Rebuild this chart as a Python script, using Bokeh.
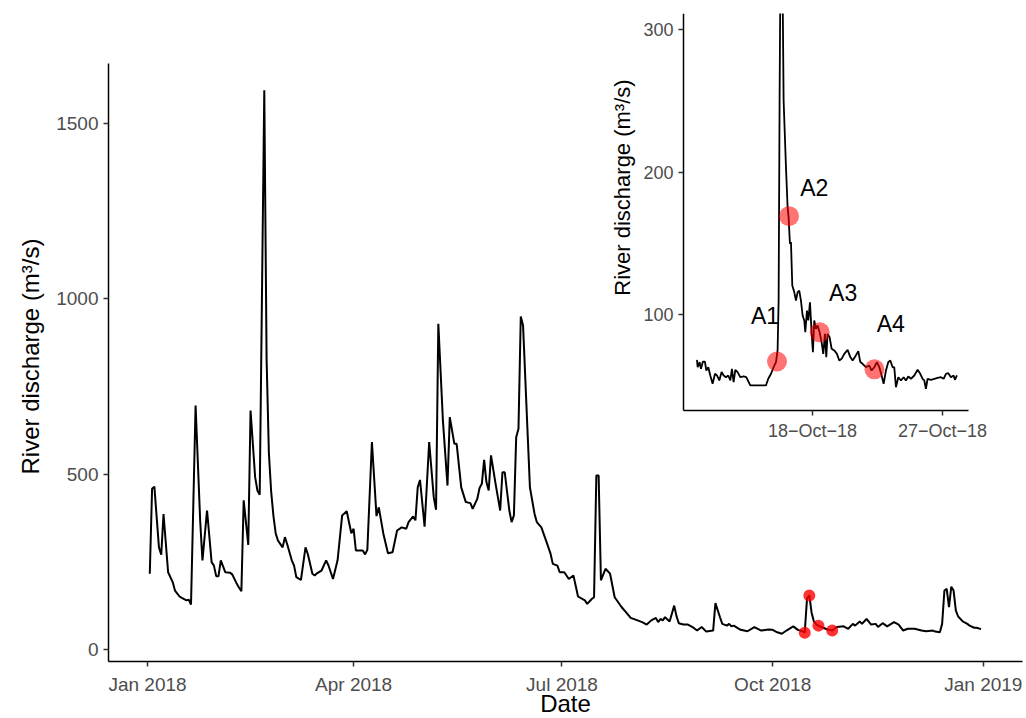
import math
import pandas as pd
from bokeh.plotting import figure
from bokeh.models import (Range1d, LinearAxis, DatetimeAxis, FixedTicker,
                          DatetimeTickFormatter, ColumnDataSource, Label)
from bokeh.embed import file_html
from bokeh.resources import INLINE
from bokeh.core.properties import value

# ------------------------------------------------------------------ data
# daily river discharge 2018 (day offset from 1 Jan 2018, m3/s)
main_day = [1, 2, 3, 5, 6, 7, 9, 11, 12, 14, 15, 17, 18, 19, 21, 23, 24, 26, 28, 29,
            30, 31, 32, 34, 36, 37, 39, 40, 41, 42, 44, 45, 47, 48, 49, 51, 52, 53, 54, 55,
            56, 57, 59, 60, 61, 63, 64, 65, 67, 69, 70, 72, 73, 74, 76, 78, 79, 81, 83, 85,
            87, 89, 90, 91, 94, 95, 96, 98, 100, 101, 103, 105, 107, 109, 111, 113, 114, 116, 117, 118,
            119, 121, 123, 125, 126, 127, 129, 131, 132, 134, 135, 137, 139, 141, 142, 144, 145, 146, 147, 148,
            149, 150, 152, 153, 154, 155, 156, 158, 159, 160, 161, 162, 163, 164, 166, 167, 169, 170, 172, 174,
            176, 177, 179, 180, 182, 184, 186, 188, 191, 192, 194, 195, 196, 197, 198, 200, 202, 204, 207, 209,
            211, 214, 216, 218, 220, 222, 223, 224, 225, 226, 228, 230, 231, 232, 234, 236, 238, 240, 242, 244,
            247, 248, 250, 251, 253, 254, 255, 256, 259, 262, 265, 268, 271, 273, 275, 277, 279, 282, 284, 286,
            287, 288, 289, 290, 291, 292, 293, 295, 297, 299, 301, 304, 306, 308, 309, 311, 312, 314, 316, 318,
            319, 321, 323, 326, 328, 330, 332, 335, 338, 340, 343, 344, 346, 347, 348, 349, 350, 351, 352, 353,
            354, 356, 358, 359, 361, 362, 364]
main_q = [216, 458, 464, 291, 270, 386, 220, 192, 168, 151, 147, 140, 142, 128, 695, 367, 254, 396, 249, 239,
          209, 209, 254, 220, 219, 214, 187, 176, 166, 425, 298, 681, 491, 453, 441, 1593, 830, 560, 450, 380,
          330, 310, 291, 320, 300, 254, 239, 206, 198, 291, 272, 216, 211, 217, 225, 254, 240, 201, 254, 382,
          394, 331, 344, 282, 282, 271, 284, 591, 380, 405, 330, 274, 277, 339, 348, 344, 363, 379, 368, 462,
          483, 350, 591, 434, 398, 928, 652, 467, 662, 586, 586, 462, 420, 417, 401, 429, 460, 472, 540, 477,
          453, 553, 472, 434, 396, 505, 505, 396, 363, 382, 605, 629, 949, 923, 614, 462, 387, 363, 348, 311,
          273, 244, 239, 220, 220, 201, 211, 151, 140, 130, 144, 149, 496, 496, 197, 230, 216, 149, 121, 106,
          90, 83, 78, 71, 83, 90, 78, 87, 83, 92, 80, 125, 95, 75, 71, 71, 64, 54, 64, 51,
          54, 132, 92, 73, 68, 73, 66, 68, 56, 52, 64, 54, 57, 56, 49, 45, 54, 66, 56, 52,
          48, 145, 154, 105, 80, 72, 68, 62, 57, 54, 64, 66, 59, 73, 68, 80, 73, 87, 71, 73,
          64, 75, 66, 78, 71, 54, 59, 59, 54, 52, 54, 51, 49, 73, 168, 173, 121, 179, 168, 111,
          94, 80, 73, 68, 62, 62, 58]

# sampled days highlighted on the annual series
peak_dates = ["2018-10-15", "2018-10-17", "2018-10-21", "2018-10-27"]
peak_q = [48, 154, 68, 54]

# high-resolution discharge for the inset (hours after 10 Oct 2018 00:00)
inset_hour = [0, 1.1, 4.4, 6.6, 9.9, 13.2, 15.5, 18.8, 22.1, 26.0, 29.9, 33.2, 37.1, 40.9, 44.3, 48.2,
              52.0, 55.4, 58.1, 60.9, 63.7, 67.5, 72.0, 77.5, 81.9, 88.6, 100.8, 114.6, 118.5, 123.0, 127.4,
              131.3, 134.0, 135.7, 137.3, 139.6, 141.0, 144.0, 147.9, 150.6, 152.3, 154.5, 156.2, 158.4,
              161.7, 164.5, 167.3, 170.0, 172.8, 175.6, 178.3, 180.0, 182.8, 185.0, 187.8, 190.5, 192.7,
              194.9, 197.7, 200.5, 203.8, 207.1, 209.9, 212.7, 214.9, 217.1, 220.4, 223.8, 228.2, 232.6,
              236.5, 240.4, 244.8, 250.4, 254.8, 258.7, 262.5, 268.1, 271.4, 275.3, 280.8, 286.4, 290.2,
              294.7, 299.1, 303.0, 306.9, 310.2, 314.1, 318.0, 321.3, 325.2, 327.9, 330.7, 334.6, 339.0,
              343.4, 347.3, 351.2, 355.6, 361.2, 366.7, 371.1, 375.0, 377.8, 380.5, 383.3, 388.9, 394.4,
              399.9, 405.5, 409.9, 413.8, 417.7, 422.1, 426.5, 428.7, 432.0]
inset_q = [68.2, 63.0, 66.6, 61.9, 67.0, 67.0, 60.7, 63.0, 57.2, 51.4, 58.4, 57.2, 53.7, 59.6, 57.2, 56.0,
           57.2, 53.7, 61.9, 52.5, 61.2, 59.6, 56.0, 56.5, 56.0, 50.2, 50.2, 50.2, 54.9, 58.4, 63.0,
           66.6, 74.8, 109.8, 250.2, 400.0, 390.0, 250.2, 203.4, 175.3, 168.3, 149.6, 150.8, 120.4,
           115.7, 109.8, 115.7, 116.8, 109.8, 99.3, 95.8, 87.6, 102.8, 95.8, 108.6, 87.6, 73.6,
           95.8, 90.0, 92.3, 87.6, 80.6, 72.4, 86.4, 70.1, 86.4, 84.1, 75.9, 74.8, 72.4,
           67.7, 68.9, 72.4, 75.2, 70.1, 67.7, 70.1, 74.3, 66.6, 65.4, 63.0, 64.2, 60.7,
           63.0, 66.6, 63.0, 57.2, 51.4, 60.7, 66.6, 67.7, 63.0, 63.0, 49.0, 56.0, 53.7,
           56.0, 53.7, 56.5, 54.9, 57.2, 61.2, 58.4, 54.9, 53.7, 47.9, 54.9, 54.2, 54.9,
           55.6, 56.0, 54.9, 58.4, 58.8, 56.0, 57.2, 54.2, 57.2]

# sampling events A1..A4 in the inset
sample_hour = [133, 153, 204, 295]
sample_q = [67, 169, 87.5, 61.5]
sample_label = ["A1", "A2", "A3", "A4"]
label_hour = [113, 195, 243, 322]
label_q = [99, 189, 115, 93.5]

main_xticks = ["2018-01-01", "2018-04-01", "2018-07-01", "2018-10-01", "2019-01-01"]
main_yticks = [0, 500, 1000, 1500]
inset_xticks = ["2018-10-18", "2018-10-27"]
inset_yticks = [100, 200, 300]

# ------------------------------------------------------------------ helpers
def ms(ts):
    return pd.Timestamp(ts).value / 1e6

DAY = 86400000.0
FONT = "Liberation Sans"
W, H = 1026, 718
FT = 13                                       # frame top (clips the inset spike)

# main chart pixel calibration (frame spans whole width and bottom)
AX_L, AX_R, AX_T, AX_B = 108, 1022, 63, 661   # main axis lines
X_JAN18, PX_DAY = 147.0, 2.29
Y_ZERO, PX_UNIT = 649.0, 0.351
t_jan = ms("2018-01-01")

def main_x_at(px):
    return t_jan + (px - X_JAN18) / PX_DAY * DAY

def main_y_at(py):
    return (Y_ZERO - py) / PX_UNIT

p = figure(width=W, height=H, output_backend="svg", toolbar_location=None,
           x_range=Range1d(main_x_at(0), main_x_at(W)),
           y_range=Range1d(main_y_at(H), main_y_at(FT)),
           x_axis_type="datetime",
           min_border_left=0, min_border_top=FT, min_border_right=0, min_border_bottom=0)
p.outline_line_color = None
p.grid.grid_line_color = None
p.background_fill_color = "white"
p.border_fill_color = "white"

# inset calibration (same frame, extra ranges)
I_LEFT, I_RIGHT, I_TOP, I_BOT = 683, 968, 13, 410
I_X18, I_PXDAY = 812.0, 14.44
I_Y100, I_PXUNIT = 314.0, 1.425
i_t18 = ms("2018-10-18")

def inset_x_at(px):
    return i_t18 + (px - I_X18) / I_PXDAY * DAY

def inset_y_at(py):
    return 100 + (I_Y100 - py) / I_PXUNIT

p.extra_x_ranges = {"ix": Range1d(inset_x_at(0), inset_x_at(W))}
p.extra_y_ranges = {"iy": Range1d(inset_y_at(H), inset_y_at(FT))}

# ------------------------------------------------------------------ main
main_src = ColumnDataSource(dict(
    date=pd.Timestamp("2018-01-01") + pd.to_timedelta(main_day, unit="D"), q=main_q))
p.line("date", "q", source=main_src, line_color="black", line_width=2)
pk_src = ColumnDataSource(dict(date=pd.to_datetime(peak_dates), q=peak_q))
p.scatter("date", "q", source=pk_src, size=12, fill_color="red", fill_alpha=0.8,
          line_color=None)

def style_axis(ax, label_size):
    ax.axis_line_color = "black"
    ax.axis_line_width = 1.5
    ax.major_tick_line_color = "#333333"
    ax.major_tick_line_width = 1.5
    ax.major_tick_out = 5
    ax.major_tick_in = 0
    ax.minor_tick_line_color = None
    ax.major_label_text_font = FONT
    ax.major_label_text_font_size = label_size
    ax.major_label_text_color = "#4d4d4d"
    ax.major_label_standoff = 5
    ax.axis_label = None

def fmt_all(f):
    return DatetimeTickFormatter(years=f, months=f, days=f, hours=f, minutes=f,
                                 seconds=f, milliseconds=f, microseconds=f,
                                 hourmin=f, minsec=f)

xa = p.xaxis[0]
xa.ticker = FixedTicker(ticks=[ms(t) for t in main_xticks])
xa.formatter = fmt_all("%b %Y")
xa.fixed_location = main_y_at(AX_B)
xa.bounds = (main_x_at(AX_L), main_x_at(AX_R))
style_axis(xa, "19px")
xa.major_label_standoff = 7

ya = p.yaxis[0]
ya.ticker = FixedTicker(ticks=main_yticks)
ya.fixed_location = main_x_at(AX_L)
ya.bounds = (main_y_at(AX_B), main_y_at(AX_T))
style_axis(ya, "19px")

TITLE_SIZE = "24px"
p.add_layout(Label(x=main_x_at(565), y=main_y_at(703), text="Date",
                   text_font=FONT, text_font_size=TITLE_SIZE, text_align="center",
                   text_baseline="middle", text_color="black"))
p.add_layout(Label(x=main_x_at(30), y=main_y_at(356), angle=math.pi / 2,
                   text="River discharge (m³/s)", text_font=FONT,
                   text_font_size=TITLE_SIZE, text_align="center",
                   text_baseline="middle", text_color="black"))

# ------------------------------------------------------------------ inset
in_src = ColumnDataSource(dict(
    t=pd.Timestamp("2018-10-10") + pd.to_timedelta(inset_hour, unit="h"), q=inset_q))
p.line("t", "q", source=in_src, line_color="black", line_width=1.8,
       x_range_name="ix", y_range_name="iy")
sm_src = ColumnDataSource(dict(
    t=pd.Timestamp("2018-10-10") + pd.to_timedelta(sample_hour, unit="h"), q=sample_q))
p.scatter("t", "q", source=sm_src, size=20, fill_color="red", fill_alpha=0.55,
          line_color=None, x_range_name="ix", y_range_name="iy")
lb_src = ColumnDataSource(dict(
    t=pd.Timestamp("2018-10-10") + pd.to_timedelta(label_hour, unit="h"), q=label_q,
    s=sample_label))
p.text("t", "q", text="s", source=lb_src, text_font=value(FONT), text_font_size="23px",
       text_align="center", text_baseline="middle", text_color="black",
       x_range_name="ix", y_range_name="iy")

iya = LinearAxis(x_range_name="ix", y_range_name="iy", fixed_location=inset_x_at(I_LEFT),
                 bounds=(inset_y_at(I_BOT), inset_y_at(I_TOP)),
                 ticker=FixedTicker(ticks=inset_yticks))
style_axis(iya, "18px")
p.add_layout(iya, "left")

ixa = DatetimeAxis(x_range_name="ix", y_range_name="iy", fixed_location=inset_y_at(I_BOT),
                   bounds=(inset_x_at(I_LEFT), inset_x_at(I_RIGHT)),
                   ticker=FixedTicker(ticks=[ms(t) for t in inset_xticks]),
                   formatter=fmt_all("%d\u2212%b\u2212%y"))
style_axis(ixa, "18px")
p.add_layout(ixa, "below")

p.add_layout(Label(x=inset_x_at(622), y=inset_y_at(184),
                   angle=math.pi / 2, text="River discharge  (m³/s)",
                   text_font=FONT, text_font_size="22px", text_align="center",
                   text_baseline="middle", text_color="black",
                   x_range_name="ix", y_range_name="iy"))

open("out.html", "w").write(file_html(p, INLINE))
